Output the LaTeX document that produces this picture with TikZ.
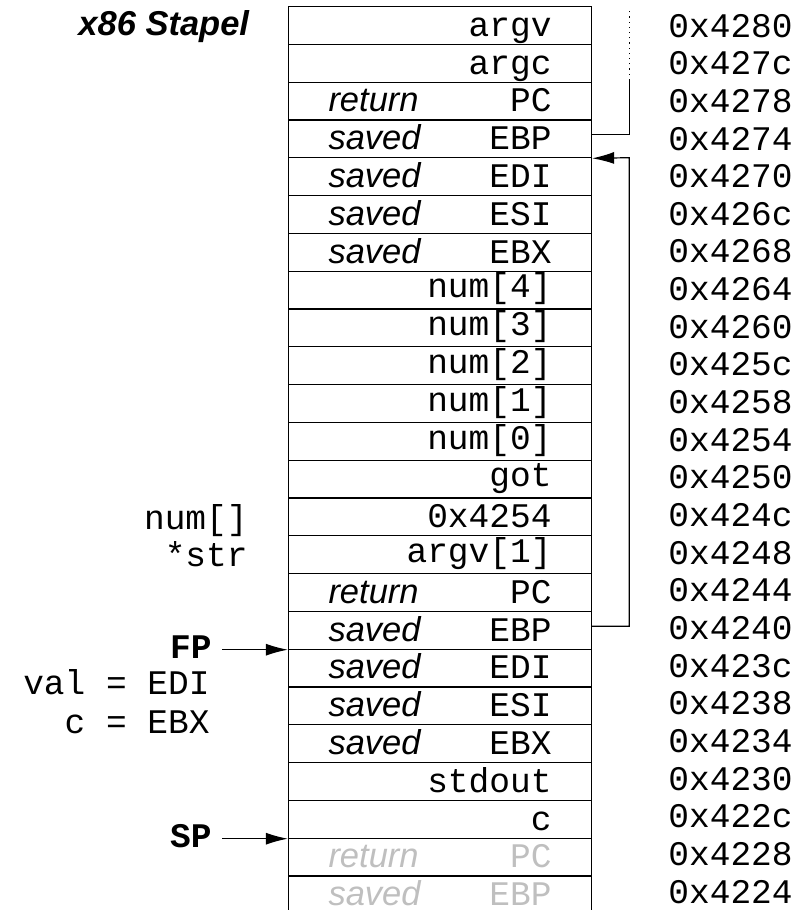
\documentclass[tikz,border=0pt]{standalone}
\usepackage{fontspec}
\setmainfont{Liberation Sans}
\setmonofont{Liberation Mono}
\usetikzlibrary{arrows.meta}

\newcommand{\stackslot}[2]{\makebox[111.5pt]{\textit{#1}\hfill\texttt{#2}}}

\tikzset{
    cell/.style={draw, line width=0.6pt, minimum width=151.5pt, minimum height=18.9pt,
        inner sep=0pt, text height=12pt, text depth=1.1pt, font=\fontsize{17.25}{20}\selectfont},
    cellup/.style={cell, text height=9pt},
    old/.style={text=black!25},
    addr/.style={anchor=base west, inner sep=0pt, font=\fontsize{17.25}{20}\selectfont\ttfamily},
    lbl/.style={anchor=base east, inner sep=0pt, font=\fontsize{17.25}{20}\selectfont\ttfamily},
    ptrlbl/.style={lbl, inner xsep=5pt, font=\fontsize{17.25}{20}\selectfont\ttfamily\bfseries},
    ptr/.style={-{Latex[length=11pt, width=6pt]}, line width=0.6pt},
}

\begin{document}
\begin{tikzpicture}[x=0.5pt, y=-0.5pt]
            \useasboundingbox (0,0) rectangle (812,910);

            \node[anchor=base west, inner sep=0pt, font=\fontsize{17.25}{20}\selectfont\bfseries\itshape] (title) at (78,35) {x86 Stapel};

            % frame of main
            \node[cell] (r1) at (440, 25.4) {\stackslot{}{argv}};
            \node[cell] (r2) at (440, 63.2) {\stackslot{}{argc}};
            \node[cell] (r3) at (440, 101.0) {\stackslot{return}{PC}};
            \node[cell] (r4) at (440, 138.8) {\stackslot{saved}{EBP}};
            \node[cell] (r5) at (440, 176.6) {\stackslot{saved}{EDI}};
            \node[cell] (r6) at (440, 214.4) {\stackslot{saved}{ESI}};
            \node[cell] (r7) at (440, 252.2) {\stackslot{saved}{EBX}};
            \node[cellup] (r8) at (440, 290.0) {\stackslot{}{num[4]}};
            \node[cellup] (r9) at (440, 327.8) {\stackslot{}{num[3]}};
            \node[cellup] (r10) at (440, 365.6) {\stackslot{}{num[2]}};
            \node[cellup] (r11) at (440, 403.4) {\stackslot{}{num[1]}};
            \node[cellup] (r12) at (440, 441.2) {\stackslot{}{num[0]}};
            \node[cellup] (r13) at (440, 479.0) {\stackslot{}{got}};
            \node[cell] (r14) at (440, 516.8) {\stackslot{}{0x4254}};
            \node[cellup] (r15) at (440, 554.6) {\stackslot{}{argv[1]}};

            % frame of the callee
            \node[cell] (r16) at (440, 592.4) {\stackslot{return}{PC}};
            \node[cell] (r17) at (440, 630.2) {\stackslot{saved}{EBP}};
            \node[cell] (r18) at (440, 668.0) {\stackslot{saved}{EDI}};
            \node[cell] (r19) at (440, 705.8) {\stackslot{saved}{ESI}};
            \node[cell] (r20) at (440, 743.6) {\stackslot{saved}{EBX}};
            \node[cell] (r21) at (440, 781.4) {\stackslot{}{stdout}};
            \node[cell] (r22) at (440, 819.2) {\stackslot{}{c}};
            \node[cell, old] (r23) at (440, 857.0) {\stackslot{return}{PC}};
            \node[cell, old] (r24) at (440, 894.8) {\stackslot{saved}{EBP}};

            % addresses
            \node[addr] (a1) at (668, 37.0) {0x4280};
            \node[addr] (a2) at (668, 74.7) {0x427c};
            \node[addr] (a3) at (668, 112.3) {0x4278};
            \node[addr] (a4) at (668, 150.0) {0x4274};
            \node[addr] (a5) at (668, 187.6) {0x4270};
            \node[addr] (a6) at (668, 225.3) {0x426c};
            \node[addr] (a7) at (668, 262.9) {0x4268};
            \node[addr] (a8) at (668, 300.6) {0x4264};
            \node[addr] (a9) at (668, 338.2) {0x4260};
            \node[addr] (a10) at (668, 375.9) {0x425c};
            \node[addr] (a11) at (668, 413.5) {0x4258};
            \node[addr] (a12) at (668, 451.2) {0x4254};
            \node[addr] (a13) at (668, 488.8) {0x4250};
            \node[addr] (a14) at (668, 526.5) {0x424c};
            \node[addr] (a15) at (668, 564.1) {0x4248};
            \node[addr] (a16) at (668, 601.8) {0x4244};
            \node[addr] (a17) at (668, 639.4) {0x4240};
            \node[addr] (a18) at (668, 677.1) {0x423c};
            \node[addr] (a19) at (668, 714.7) {0x4238};
            \node[addr] (a20) at (668, 752.4) {0x4234};
            \node[addr] (a21) at (668, 790.0) {0x4230};
            \node[addr] (a22) at (668, 827.7) {0x422c};
            \node[addr] (a23) at (668, 865.3) {0x4228};
            \node[addr] (a24) at (668, 903.0) {0x4224};

            % names on the left
            \node[lbl] (numarr) at (248, 529) {num[]};
            \node[lbl] (strp) at (248, 566) {*str};
            \node[ptrlbl] (fp) at (222, 658) {FP};
            \node[lbl] (val) at (210, 694) {val = EDI};
            \node[lbl] (cvar) at (210, 733) {c = EBX};
            \node[ptrlbl] (sp) at (222, 847) {SP};

            \draw[ptr] (fp.east |- r17.south west) -- (r17.south west); % FP
            \draw[ptr] (sp.east |- r22.south west) -- (r22.south west); % SP

            % chain of saved EBP
            \coordinate (link1) at (629.3, 80);
            \coordinate (linktop) at (629.3, 8);
            \coordinate (link2) at (629.3, 157.7);
            \draw[line width=0.6pt] ([yshift=2pt]r4.east) -| (link1); % r4 up
            \draw[dotted, line width=0.6pt] (link1) -- (linktop);
            \draw[ptr] ([yshift=2pt]r17.east) -| (link2) -- (r4.south east); % r17-r4
        \end{tikzpicture}
\end{document}
